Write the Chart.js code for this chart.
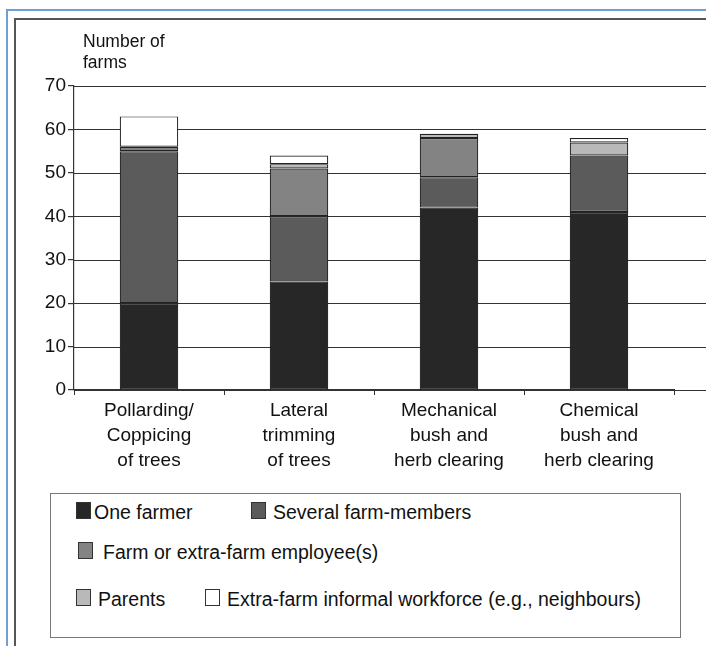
<!DOCTYPE html>
<html>
<head>
<meta charset="utf-8">
<script src="https://cdn.jsdelivr.net/npm/chart.js@4.4.1/dist/chart.umd.min.js"></script>
<style>
  body { margin: 0; background: #fff; font-family: "Liberation Sans", Arial, sans-serif; color: #111; }
  #wrap { position: relative; width: 706px; height: 646px; overflow: hidden; }
  .outer { position: absolute; left: 6px; top: 9px; width: 760px; height: 700px; border-left: 2px solid #6f9fd4; border-top: 2px solid #6f9fd4; }
  .inner { position: absolute; left: 14px; top: 18px; width: 760px; height: 700px; border-left: 2px solid #555; border-top: 2px solid #555; }
  #chart { position: absolute; left: 0; top: 0; }
  .ytitle { position: absolute; left: 83px; top: 31px; font-size: 17.5px; line-height: 21px; }
  #legend { position: absolute; left: 50px; top: 493px; width: 629px; height: 143px; border: 1.5px solid #777; background: #fff; }
  .item { position: absolute; font-size: 19.5px; line-height: 22px; white-space: nowrap; display: flex; align-items: center; }
  .item i { display: inline-block; width: 13px; height: 15px; border: 1px solid #333; }
</style>
</head>
<body>
<div id="wrap">
  <div class="outer"></div>
  <div class="inner"></div>
  <canvas id="chart" width="706" height="482"></canvas>
  <div class="ytitle">Number of<br>farms</div>
  <div id="legend"></div>
</div>
<script>
var categories = [
  ["Pollarding/", "Coppicing", "of trees"],
  ["Lateral", "trimming", "of trees"],
  ["Mechanical", "bush and", "herb clearing"],
  ["Chemical", "bush and", "herb clearing"]
];
var oneFarmer = [20, 25, 42, 41];
var severalMembers = [35, 15, 7, 13];
var employees = [1, 11, 9, 0];
var parents = [0, 1, 1, 3];
var informal = [7, 2, 0, 1];
var yTicks = [0, 10, 20, 30, 40, 50, 60, 70];

var seriesNames = ["One farmer", "Several farm-members", "Farm or extra-farm employee(s)",
  "Parents", "Extra-farm informal workforce (e.g., neighbours)"];
var seriesColors = ["#272727", "#5b5b5b", "#838383", "#b9b9b9", "#ffffff"];
var seriesValues = [oneFarmer, severalMembers, employees, parents, informal];

var datasets = seriesValues.map(function (vals, i) {
  return {
    label: seriesNames[i],
    data: vals,
    backgroundColor: seriesColors[i],
    borderColor: "#222",
    borderWidth: 1.2,
    borderSkipped: false,
    categoryPercentage: 1,
    barPercentage: 0.39
  };
});

// horizontal gridlines, drawn from the axis right out to the canvas edge
var longGrid = {
  id: "longGrid",
  beforeDatasetsDraw: function (chart) {
    var ctx = chart.ctx, y = chart.scales.y, a = chart.chartArea;
    ctx.save();
    ctx.strokeStyle = "#333";
    ctx.lineWidth = 1.2;
    y.ticks.forEach(function (t) {
      var py = Math.round(y.getPixelForValue(t.value)) + 0.5;
      ctx.beginPath();
      ctx.moveTo(a.left, py);
      ctx.lineTo(chart.width, py);
      ctx.stroke();
    });
    ctx.restore();
  }
};

var chart = new Chart(document.getElementById("chart"), {
  type: "bar",
  data: { labels: categories, datasets: datasets },
  plugins: [longGrid],
  options: {
    responsive: false,
    animation: false,
    layout: { padding: { top: 86, right: 32, left: 0, bottom: 0 } },
    plugins: { legend: { display: false }, tooltip: { enabled: false } },
    scales: {
      x: {
        stacked: true,
        afterFit: function (s) { s.height = 92; },
        grid: { offset: true, drawOnChartArea: false, color: "#333", tickLength: 5 },
        border: { color: "#333", width: 1.2 },
        ticks: { color: "#111", padding: 3, maxRotation: 0, font: { family: "Liberation Sans", size: 19, lineHeight: 1.32 } }
      },
      y: {
        stacked: true,
        min: 0,
        max: 70,
        afterFit: function (s) { s.width = 74; },
        afterBuildTicks: function (s) { s.ticks = yTicks.map(function (v) { return { value: v }; }); },
        grid: { drawOnChartArea: false, color: "#333", lineWidth: 1.2, tickLength: 6 },
        border: { color: "#333", width: 1.2 },
        ticks: { color: "#111", padding: 2, font: { family: "Liberation Sans", size: 19 } }
      }
    }
  }
});

// legend laid out in three rows: [box left, text left, top]
var legendSpots = [[25, 43, 7], [200, 222, 7], [27, 52, 47], [25, 47, 94], [154, 176, 94]];
var legend = document.getElementById("legend");
chart.data.datasets.forEach(function (ds, i) {
  var box = document.createElement("div");
  box.className = "item";
  box.style.left = legendSpots[i][0] + "px";
  box.style.top = legendSpots[i][2] + 1 + "px";
  box.innerHTML = '<i style="background:' + ds.backgroundColor + '"></i>';
  var txt = document.createElement("div");
  txt.className = "item";
  txt.style.left = legendSpots[i][1] + "px";
  txt.style.top = legendSpots[i][2] + "px";
  txt.textContent = ds.label;
  legend.appendChild(box);
  legend.appendChild(txt);
});
</script>
</body>
</html>
